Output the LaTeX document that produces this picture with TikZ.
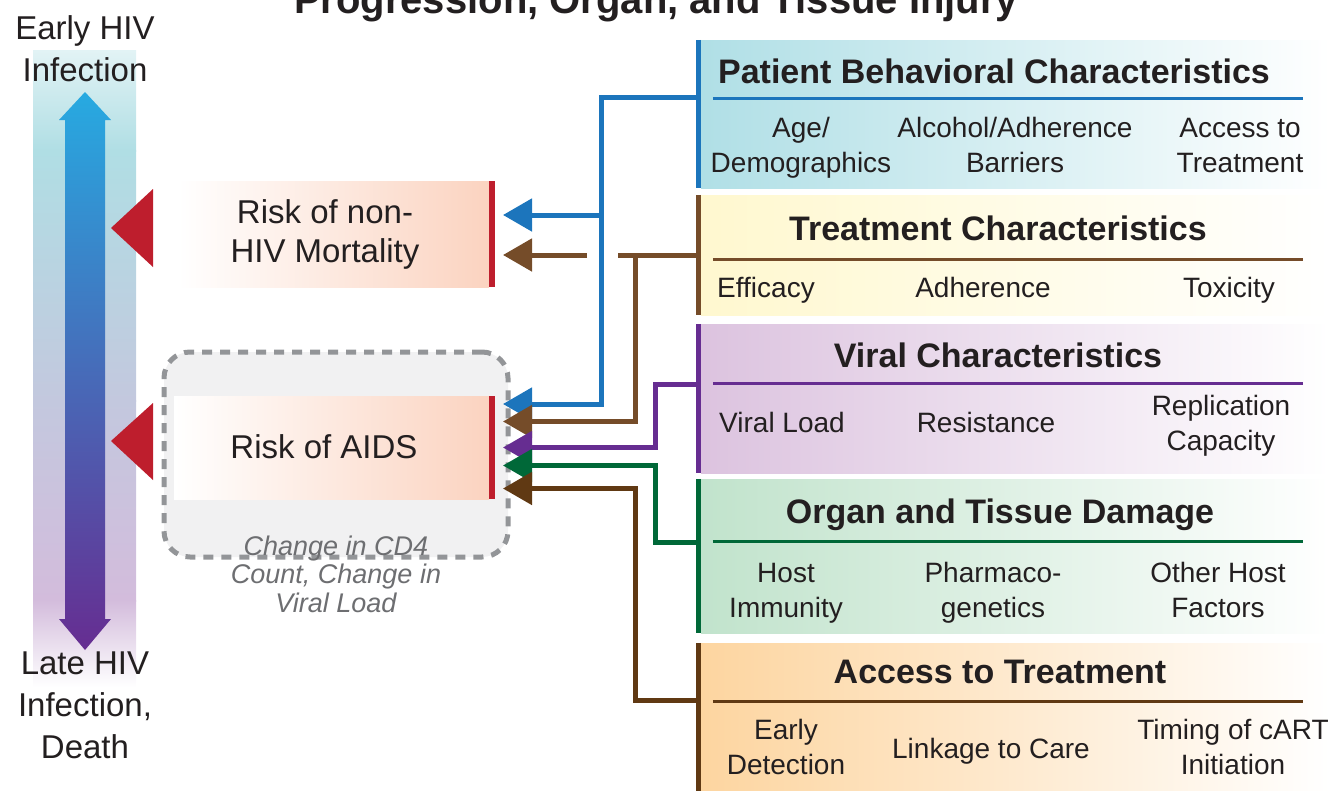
\documentclass[tikz,border=0pt]{standalone}
\usepackage{fontspec}
\setmainfont{Liberation Sans}
\usetikzlibrary{arrows.meta}

\definecolor{ink}{HTML}{231F20}
\definecolor{cblue}{HTML}{1C75BC}
\definecolor{cbrown}{HTML}{754C29}
\definecolor{cpurple}{HTML}{662D91}
\definecolor{cgreen}{HTML}{006838}
\definecolor{cdbrown}{HTML}{603913}
\definecolor{cred}{HTML}{BE1E2D}
\definecolor{peach}{HTML}{FBD3C0}
\definecolor{fblue}{HTML}{B0DFE6}
\definecolor{fyellow}{HTML}{FFF8CF}
\definecolor{fpurple}{HTML}{DCC3DF}
\definecolor{fgreen}{HTML}{C1E3CC}
\definecolor{forange}{HTML}{FDD5A0}
\definecolor{dashgray}{HTML}{939598}
\definecolor{panelgray}{HTML}{F1F1F2}
\definecolor{notegray}{HTML}{6D6E71}
\definecolor{barA}{HTML}{E2F3F5}
\definecolor{barB}{HTML}{B0DEE4}
\definecolor{barC}{HTML}{C3C8DE}
\definecolor{barD}{HTML}{D3BCDC}
\definecolor{arrTop}{HTML}{27AAE1}
\definecolor{arrMid}{HTML}{4A6CB3}
\definecolor{arrBot}{HTML}{662D91}

\newcommand\setfs[2]{\fontsize{#1}{#2}\selectfont}

\begin{document}
\begin{tikzpicture}[x=1pt,y=-1pt,
  lbl/.style={anchor=base, align=center, text=ink, inner sep=0pt},
  sidelbl/.style={lbl, font=\setfs{33}{42}},
  cathead/.style={lbl, font=\setfs{34}{40}\bfseries},
  catitem/.style={lbl, font=\setfs{28}{35}},
  remark/.style={lbl, font=\setfs{27}{28.5}\itshape, text=notegray},
  conn/.style={line width=5pt, -{Triangle[length=29pt,width=32pt]}},
  wire/.style={line width=5pt},
  catbox/.style={inner sep=0pt, minimum width=629pt, left color=#1, right color=white, draw=none},
  riskbox/.style={inner sep=0pt, left color=white, right color=peach, draw=none},
  divider/.style={line width=3pt},
]
\useasboundingbox (0,0) rectangle (1336,790);
\begin{scope}
\clip (0,0) rectangle (1336,790);

% heading, cut by the top edge
\node[lbl, font=\setfs{40}{48}\bfseries] (title) at (656,13) {Progression, Organ, and Tissue Injury};

% timeline band on the left
\shade[top color=barA, bottom color=barB] (33,50) rectangle (136,151);
\shade[top color=barB, bottom color=barC] (33,150) rectangle (136,401);
\shade[top color=barC, bottom color=barD] (33,400) rectangle (136,601);
\shade[top color=barD, bottom color=white] (33,600) rectangle (136,687);

% double-headed progression arrow
\shade[top color=arrTop, middle color=arrMid, bottom color=arrBot]
  (85,92) -- (111,120) -- (105,120) -- (105,619) -- (111,619) -- (85,650)
  -- (59,619) -- (65,619) -- (65,120) -- (59,120) -- cycle;

% multi-line labels are placed by the baseline of their last line
\node[sidelbl] (early) at (85,81) {Early HIV\\Infection};
\node[sidelbl] (late) at (85,758) {Late HIV\\Infection,\\Death};

% red pointers onto the timeline
\fill[cred] (111,228) -- (153,189) -- (153,267) -- cycle;
\fill[cred] (111,441) -- (153,403) -- (153,480) -- cycle;

% risk of non-HIV mortality
\node[riskbox, minimum width=311pt, minimum height=106pt] (nonhiv) at (333.5,234) {};
\fill[cred] (nonhiv.north east) rectangle ([xshift=6pt]nonhiv.south east);
\node[lbl, font=\setfs{33}{39}] (nonhivtxt) at (325,262) {Risk of non-\\HIV Mortality};

% risk of AIDS with its surrogate markers
\node[draw=dashgray, fill=panelgray, line width=5pt, dash pattern=on 10pt off 8pt,
      rounded corners=26pt, minimum width=344pt, minimum height=205pt, inner sep=0pt]
      (aidsgroup) at (336,454.5) {};
\node[riskbox, minimum width=315pt, minimum height=103pt] (aids) at (331.5,447.5) {};
\fill[cred] (aids.north east) rectangle ([xshift=6pt]aids.south east);
\node[lbl, font=\setfs{33}{39}] (aidstxt) at (324,458) {Risk of AIDS};
\node[remark] (markers) at (336,612) {Change in CD4\\Count, Change in\\Viral Load};

% factor categories
\node[catbox=fblue,   minimum height=148pt] (pbc) at (1015.5,114) {};
\node[catbox=fyellow, minimum height=120pt] (trt) at (1015.5,255) {};
\node[catbox=fpurple, minimum height=149pt] (vir) at (1015.5,398.5) {};
\node[catbox=fgreen,  minimum height=154pt] (otd) at (1015.5,556) {};
\node[catbox=forange, minimum height=157pt] (att) at (1015.5,721.5) {};

\foreach \b/\c in {pbc/cblue, trt/cbrown, vir/cpurple, otd/cgreen, att/cdbrown}
  \draw[\c, line width=5pt] ([xshift=-2.5pt]\b.north west) -- ([xshift=-2.5pt]\b.south west);

\draw[divider, cblue]   ([xshift=12pt]pbc.west |- 0,98)    -- ([xshift=-27pt]pbc.east |- 0,98);
\draw[divider, cbrown]  ([xshift=12pt]trt.west |- 0,259)   -- ([xshift=-27pt]trt.east |- 0,259);
\draw[divider, cpurple] ([xshift=12pt]vir.west |- 0,383.5) -- ([xshift=-27pt]vir.east |- 0,383.5);
\draw[divider, cgreen]  ([xshift=12pt]otd.west |- 0,541)   -- ([xshift=-27pt]otd.east |- 0,541);
\draw[divider, cdbrown] ([xshift=12pt]att.west |- 0,701.5) -- ([xshift=-27pt]att.east |- 0,701.5);

\node[cathead] (pbcT) at (994,83)  {Patient Behavioral Characteristics};
\node[cathead] (trtT) at (998,240) {Treatment Characteristics};
\node[cathead] (virT) at (998,367) {Viral Characteristics};
\node[cathead] (otdT) at (1000,523) {Organ and Tissue Damage};
\node[cathead] (attT) at (1000,683) {Access to Treatment};

\node[catitem] (pbc1) at (801,172)  {Age/\\Demographics};
\node[catitem] (pbc2) at (1015,172) {Alcohol/Adherence\\Barriers};
\node[catitem] (pbc3) at (1240,172) {Access to\\Treatment};

\node[catitem] (trt1) at (766,297)  {Efficacy};
\node[catitem] (trt2) at (983,297)  {Adherence};
\node[catitem] (trt3) at (1229,297) {Toxicity};

\node[catitem] (vir1) at (782,432)  {Viral Load};
\node[catitem] (vir2) at (986,432)  {Resistance};
\node[catitem] (vir3) at (1221,450) {Replication\\Capacity};

\node[catitem] (otd1) at (786,617)  {Host\\Immunity};
\node[catitem] (otd2) at (993,617)  {Pharmaco-\\genetics};
\node[catitem] (otd3) at (1218,617) {Other Host\\Factors};

\node[catitem] (att1) at (786,774)  {Early\\Detection};
\node[catitem] (att2) at (991,758)  {Linkage to Care};
\node[catitem] (att3) at (1233,774) {Timing of cART\\Initiation};

% connector ends
\coordinate (pbcIn) at (pbc.west |- 0,97);
\coordinate (trtIn) at (trt.west |- 0,255);
\coordinate (virIn) at (vir.west |- 0,384.5);
\coordinate (otdIn) at (otd.west |- 0,542);
\coordinate (attIn) at (att.west |- 0,700.5);

\coordinate (nhB) at (503,215);
\coordinate (nhT) at (503,255);
\coordinate (aB) at (503,404);
\coordinate (aT) at (503,421.5);
\coordinate (aV) at (503,447.5);
\coordinate (aO) at (503,465.5);
\coordinate (aA) at (503,488.5);

\coordinate (trtGapR) at (618,255);
\coordinate (trtGapL) at (587,255);
\coordinate (trtJ) at (635,255);
\coordinate (pbcJ) at (601,215);

% connectors
\draw[conn, cblue] (pbcIn) -| (601,404) -- (aB);
\draw[conn, cblue] (pbcJ) -- (nhB);
\draw[wire, cbrown] (trtIn) -- (trtGapR);
\draw[conn, cbrown] (trtGapL) -- (nhT);
\draw[conn, cbrown] (trtJ) |- (aT);
\draw[conn, cpurple] (virIn) -| (655,447.5) -- (aV);
\draw[conn, cgreen] (otdIn) -| (655,465.5) -- (aO);
\draw[conn, cdbrown] (attIn) -| (635.5,488.5) -- (aA);
\end{scope}
\end{tikzpicture}
\end{document}
